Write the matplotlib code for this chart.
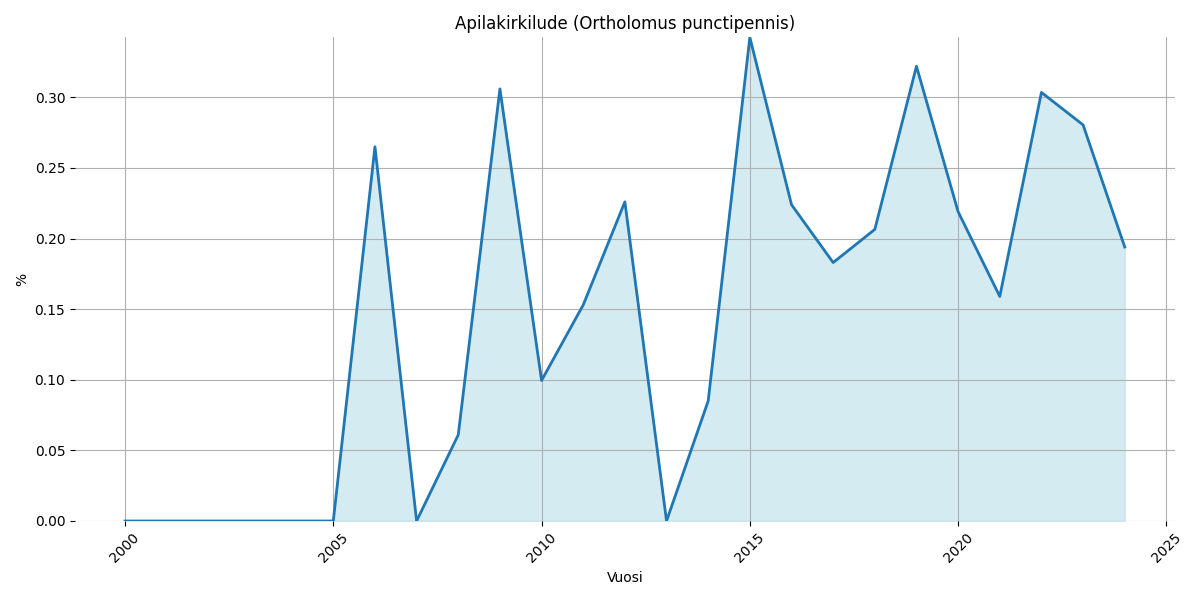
import matplotlib
matplotlib.use("Agg")
import matplotlib.pyplot as plt
import numpy as np

years = list(range(2000, 2025))
values = [0, 0, 0, 0, 0, 0, 0.265, 0, 0.061, 0.306, 0.0995, 0.153, 0.226, 0,
          0.085, 0.3425, 0.224, 0.183, 0.2065, 0.322, 0.219, 0.159, 0.3035, 0.2805, 0.194]

fig, ax = plt.subplots(figsize=(12, 6), dpi=100)
ax.fill_between(years, values, color="lightblue", alpha=0.5)
ax.plot(years, values, color="#1f77b4", linewidth=2)

ax.set_title("Apilakirkilude (Ortholomus punctipennis)")
ax.set_xlabel("Vuosi")
ax.set_ylabel("%")
ax.set_ylim(0, max(values))
plt.xticks(rotation=45)
ax.grid(True)
for s in ax.spines.values():
    s.set_visible(False)

plt.tight_layout()
plt.savefig("out.png")
